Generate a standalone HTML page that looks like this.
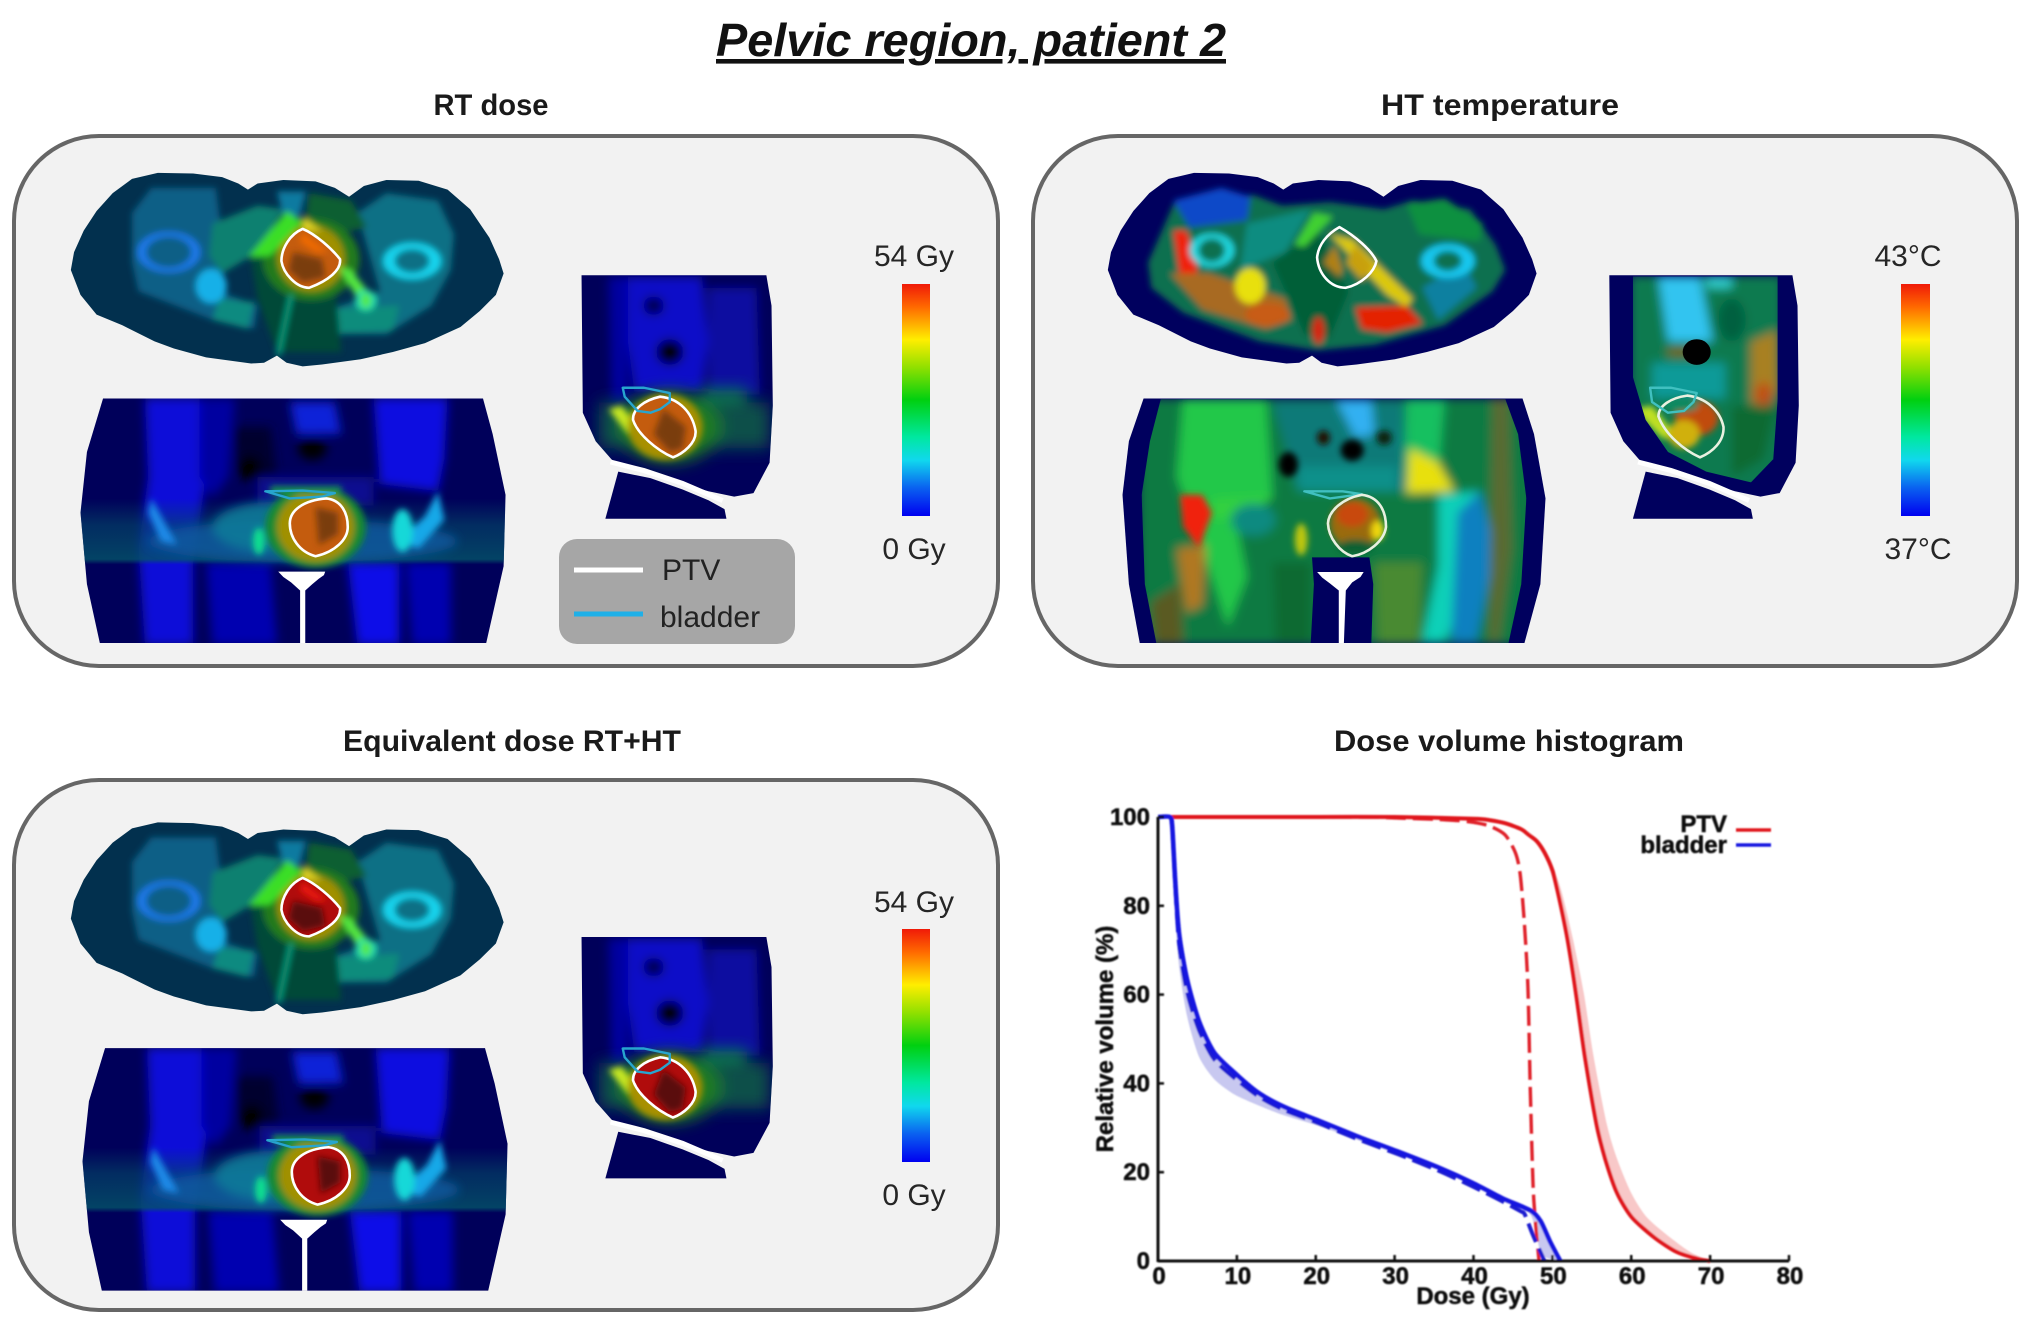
<!DOCTYPE html>
<html lang="en">
<head>
<meta charset="utf-8">
<title>Pelvic region, patient 2</title>
<style>
html,body{margin:0;padding:0;background:#fff;width:2031px;height:1325px;overflow:hidden}
svg{display:block}
text{font-family:"Liberation Sans",sans-serif}
.lbl{font-size:30px;fill:#262626;text-anchor:middle}
.ttl{font-size:30px;font-weight:bold;fill:#1a1a1a}
.ch{font-size:24px;font-weight:bold;fill:#111;stroke:#111;stroke-width:.5px}
.ptvline{fill:none;stroke:#fff;stroke-width:2.6;vector-effect:non-scaling-stroke;stroke-linejoin:round}
.bldline{fill:none;stroke:#27a5cf;stroke-width:2.4;vector-effect:non-scaling-stroke;stroke-linejoin:round}
</style>
</head>
<body>
<svg xmlns="http://www.w3.org/2000/svg" width="2031" height="1325" viewBox="0 0 2031 1325">
<defs>
<filter id="b" x="-20%" y="-20%" width="140%" height="140%"><feGaussianBlur stdDeviation="5 9"/></filter>
<filter id="b3" x="-20%" y="-20%" width="140%" height="140%"><feGaussianBlur stdDeviation="8 14"/></filter>
<filter id="b2" x="-20%" y="-20%" width="140%" height="140%"><feGaussianBlur stdDeviation="12 22"/></filter>
<filter id="soft" x="-5%" y="-5%" width="110%" height="110%"><feGaussianBlur stdDeviation="0.8"/></filter>
<linearGradient id="jet" x1="0" y1="0" x2="0" y2="1">
<stop offset="0" stop-color="#f01a08"/><stop offset=".1" stop-color="#ff6a00"/><stop offset=".24" stop-color="#ffee00"/>
<stop offset=".36" stop-color="#90e000"/><stop offset=".5" stop-color="#00d010"/><stop offset=".66" stop-color="#00e8a0"/>
<stop offset=".76" stop-color="#10d8ee"/><stop offset=".88" stop-color="#0a60f0"/><stop offset="1" stop-color="#0000f0"/>
</linearGradient>
<linearGradient id="band" x1="0" y1="0" x2="0" y2="1">
<stop offset="0" stop-color="#044a66" stop-opacity="0"/><stop offset=".4" stop-color="#044a66" stop-opacity=".6"/><stop offset=".92" stop-color="#045468" stop-opacity=".8"/><stop offset="1" stop-color="#045468" stop-opacity="0"/>
</linearGradient>
<path id="bodyA" d="M110 420L115 370L130 310L150 255L175 205L205 165L245 148L300 150L345 160L370 178L385 195L400 178L440 168L490 172L520 190L542 215L565 185L600 168L650 170L695 195L730 250L760 330L775 390L782 430L770 490L745 535L715 580L660 625L610 650L560 670L500 685L470 690L445 680L430 660L410 680L390 682L320 665L270 640L240 620L190 575L150 545L125 490Z"/>
<path id="bodyC" d="M160 780L750 780L765 880L785 1050L782 1250L755 1465L155 1465L135 1300L125 1100L135 930Z"/>
<path id="bodyS" d="M903 435L1190 435L1198 520L1200 800L1195 960L1170 1045L1140 1055L1100 1040L1040 1008L1000 985L955 962L925 900L905 820Z"/>
<clipPath id="cA"><use href="#bodyA"/></clipPath>
<clipPath id="cC"><use href="#bodyC"/></clipPath>
<clipPath id="cS"><use href="#bodyS"/></clipPath>

<!-- RT dose axial slice -->
<g id="rtAxial">
<use href="#bodyA" fill="#02304e"/>
<g clip-path="url(#cA)"><g filter="url(#b)">
<path d="M205 260L235 190L335 190L345 330L340 480L400 520L395 585L330 560L215 480L205 400Z" fill="#0b5f86"/>
<path d="M555 260L600 205L680 225L705 320L700 420L670 520L600 600L500 600L500 540L590 480Z" fill="#0b6f85"/>
<path d="M330 290L400 240L440 250L400 370L345 430L325 380Z" fill="#0c8070"/>
<path d="M340 500L395 510L385 585L330 560Z" fill="#0c8a80"/>
<path d="M500 530L620 520L610 590L510 600Z" fill="#0c8c7c"/>
<path d="M430 200L475 200L465 270L440 270Z" fill="#0a7aa0"/>
<path d="M480 205L545 225L570 300L520 320L475 270Z" fill="#0a5f30"/>
<path d="M390 390L450 350L520 450L530 650L430 650L400 500Z" fill="#054a38"/>
<ellipse cx="483" cy="390" rx="75" ry="115" fill="#247a1a"/>
<ellipse cx="483" cy="388" rx="52" ry="92" fill="#a09000"/>
<path d="M445 255L385 385L420 380L470 285Z" fill="#3ade28"/>
<path d="M470 270L500 310L470 310Z" fill="#e0d020"/>
<path d="M525 410L545 420L585 510L565 530Z" fill="#55e840"/>
<ellipse cx="328" cy="465" rx="24" ry="48" fill="#18b0e8"/>
<ellipse cx="262" cy="370" rx="42" ry="50" fill="none" stroke="#1e78e8" stroke-width="14"/>
<ellipse cx="640" cy="395" rx="36" ry="42" fill="none" stroke="#14d4ee" stroke-width="18"/>
<ellipse cx="568" cy="505" rx="12" ry="25" fill="none" stroke="#20e0b0" stroke-width="8"/>
<path d="M452 490L432 660" stroke="#10a080" stroke-width="7" fill="none"/>
</g></g>
<path d="M470 305C490 320 515 360 528 390C530 420 510 450 480 470C460 470 440 430 437 395C437 360 450 320 470 305Z" style="fill:var(--ptv)"/>
<path d="M455 370L500 390L505 440L470 455L448 420Z" style="fill:var(--ptvd)" filter="url(#b)"/>
<path d="M470 315L510 370L490 370L465 340Z" style="fill:var(--ptvl)" filter="url(#b)"/>
<path class="ptvline" d="M470 305C490 320 515 360 528 390C530 420 510 450 480 470C460 470 440 430 437 395C437 360 450 320 470 305Z"/>
</g>

<!-- RT dose coronal slice -->
<g id="rtCoronal">
<use href="#bodyC" fill="#00005a"/>
<g clip-path="url(#cC)"><g filter="url(#b3)">
<path d="M225 780L310 780L320 1000L300 1240L300 1470L225 1470L215 1200L230 1000Z" fill="#0a0ad8"/>
<path d="M310 780L365 780L355 1000L330 1060L310 1000Z" fill="#0606a0"/>
<path d="M580 780L695 780L690 950L680 1040L590 1020Z" fill="#0a0ae0"/>
<path d="M320 1240L420 1240L430 1470L330 1470Z" fill="#0606b0"/>
<path d="M540 1240L620 1240L620 1470L555 1470Z" fill="#0810e8"/>
<path d="M630 1240L700 1240L700 1470L640 1470Z" fill="#0606b0"/>
<path d="M450 790L520 790L530 880L460 880Z" fill="#0a20d8"/>
<path d="M400 1000L580 1000L580 1080L400 1080Z" fill="#0a0a90"/>
<path d="M360 860L420 860L430 1000L370 1000Z" fill="#01012e"/>
<ellipse cx="485" cy="920" rx="22" ry="32" fill="#000"/>
<ellipse cx="388" cy="975" rx="18" ry="35" fill="#000"/>
</g>
<rect x="120" y="1060" width="680" height="185" fill="url(#band)"/>
<g filter="url(#b3)">
<ellipse cx="470" cy="1180" rx="240" ry="60" fill="#0a5aa0" opacity=".8"/>
<ellipse cx="420" cy="1140" rx="90" ry="70" fill="#0a7a98" opacity=".9"/>
</g>
<g filter="url(#b)">
<path d="M235 1060L275 1190L250 1180L230 1100Z" fill="#1a8ae8"/>
<path d="M680 1040L690 1120L650 1200L620 1180L660 1110Z" fill="#18a8e8"/>
<ellipse cx="625" cy="1150" rx="16" ry="60" fill="#12d8d8"/>
<ellipse cx="402" cy="1180" rx="9" ry="38" fill="#10e090"/>
<ellipse cx="490" cy="1140" rx="78" ry="115" fill="#168a30"/>
<ellipse cx="490" cy="1140" rx="60" ry="98" fill="#a09000"/>
<rect x="420" y="1025" width="110" height="25" fill="#129050"/>
</g></g>
<path d="M432 1265L505 1265L503 1275L495 1285L485 1300L474 1318L474 1465L466 1465L466 1318L452 1295L440 1280Z" fill="#fff"/>
<path d="M507 1060C530 1065 540 1100 540 1140C540 1175 520 1210 490 1222C465 1210 450 1170 450 1130C450 1095 470 1065 507 1060Z" style="fill:var(--ptv)"/>
<path d="M490 1085L525 1100L525 1160L495 1190Z" style="fill:var(--ptvd)" filter="url(#b)"/>
<path class="bldline" d="M412 1040L470 1038L520 1045L500 1055L450 1060Z"/>
<path class="ptvline" d="M507 1060C530 1065 540 1100 540 1140C540 1175 520 1210 490 1222C465 1210 450 1170 450 1130C450 1095 470 1065 507 1060Z"/>
</g>

<!-- RT dose sagittal slice -->
<g id="rtSagittal">
<use href="#bodyS" fill="#00005a"/>
<g clip-path="url(#cS)"><g filter="url(#b3)">
<path d="M975 440L1090 440L1100 620L1090 760L985 760L975 620Z" fill="#0a10c8"/>
<path d="M1100 470L1175 470L1180 770L1100 770Z" fill="#0808a0"/>
<path d="M945 440L975 440L975 800L950 800Z" fill="#0606a0"/>
<ellipse cx="1015" cy="520" rx="16" ry="26" fill="#02024c"/>
<ellipse cx="1040" cy="650" rx="21" ry="36" fill="#000"/>
</g>
<g filter="url(#b2)">
<rect x="930" y="790" width="265" height="130" fill="#07504a"/>
<ellipse cx="1040" cy="860" rx="80" ry="100" fill="#1a7a20"/>
<rect x="1090" y="755" width="70" height="30" fill="#0c9050"/>
</g>
<g filter="url(#b)">
<path d="M945 810L965 800L1000 880L975 880Z" fill="#c8e820"/>
<ellipse cx="1033" cy="860" rx="58" ry="92" fill="#a89000"/>
</g></g>
<path d="M948 958L1000 982L1060 1018L1122 1066" fill="none" stroke="#fff" stroke-width="5" vector-effect="non-scaling-stroke"/>
<path d="M960 985L1010 1003L1060 1035L1100 1065L1125 1090L1128 1117L940 1117Z" fill="#00005a"/>
<path d="M1025 775C1055 780 1075 820 1080 870C1082 905 1060 935 1045 945C1020 925 990 880 983 840C982 810 1000 785 1025 775Z" style="fill:var(--ptv)"/>
<path d="M1030 810L1065 860L1060 920L1040 930L1015 880Z" style="fill:var(--ptvd)" filter="url(#b)"/>
<path class="ptvline" d="M1025 775C1055 780 1075 820 1080 870C1082 905 1060 935 1045 945C1020 925 990 880 983 840C982 810 1000 785 1025 775Z"/>
<path class="bldline" d="M967 750L1000 750L1040 765L1040 790L1025 810L1010 820L990 815L970 775Z"/>
</g>
</defs>

<rect width="2031" height="1325" fill="#fff"/>

<text x="971" y="56" font-size="46" font-weight="bold" font-style="italic" text-anchor="middle" fill="#111" text-decoration="underline" textLength="510" lengthAdjust="spacingAndGlyphs">Pelvic region, patient 2</text>
<text class="ttl" x="491" y="115" text-anchor="middle" textLength="115" lengthAdjust="spacingAndGlyphs">RT dose</text>
<text class="ttl" x="1500" y="115" text-anchor="middle" textLength="238" lengthAdjust="spacingAndGlyphs">HT temperature</text>
<text class="ttl" x="512" y="751" text-anchor="middle" textLength="338" lengthAdjust="spacingAndGlyphs">Equivalent dose RT+HT</text>
<text class="ttl" x="1509" y="751" text-anchor="middle" textLength="350" lengthAdjust="spacingAndGlyphs">Dose volume histogram</text>

<!-- PANEL 1 RT dose -->
<g>
<rect x="14" y="136" width="984" height="530" rx="85" ry="85" fill="#f2f2f2" stroke="#666" stroke-width="4"/>
<g transform="translate(0,120) scale(.644,.357)" style="--ptv:#c45c0e;--ptvd:#7a3c10;--ptvl:#f06a04">
<use href="#rtAxial"/>
<use href="#rtCoronal"/>
<use href="#rtSagittal"/>
</g>
<rect x="902" y="284" width="28" height="232" fill="url(#jet)"/>
<text class="lbl" x="914" y="266">54 Gy</text>
<text class="lbl" x="914" y="559">0 Gy</text>
<g>
<rect x="559" y="539" width="236" height="105" rx="18" fill="#a6a6a6"/>
<line x1="574" y1="570" x2="643" y2="570" stroke="#fff" stroke-width="5"/>
<text x="662" y="580" font-size="30" fill="#222">PTV</text>
<line x1="574" y1="614" x2="643" y2="614" stroke="#1fb0e8" stroke-width="5"/>
<text x="660" y="627" font-size="30" fill="#222">bladder</text>
</g>
</g>

<!-- PANEL 2 HT temperature -->
<g>
<rect x="1033" y="136" width="984" height="530" rx="85" ry="85" fill="#f2f2f2" stroke="#666" stroke-width="4"/>
<g transform="translate(1030,120) scale(.638,.357)">
<!-- axial -->
<g>
<g transform="translate(12,0)"><use href="#bodyA" fill="#00005e"/></g>
<g transform="translate(12,0)" clip-path="url(#cA)"><g transform="translate(-12,0)"><g filter="url(#b)">
<path d="M185 400L225 235L350 210L395 240L470 230L555 250L600 225L690 250L730 350L745 420L725 480L650 575L540 630L450 645L360 620L240 540L190 470Z" fill="#0a7050"/>
<path d="M225 225L300 190L345 215L340 280L250 300Z" fill="#1048c8"/>
<path d="M590 235L650 220L710 290L705 340L610 320Z" fill="#0a9040"/>
<path d="M340 290L440 250L400 370L330 420Z" fill="#0a8c80"/>
<path d="M380 400L450 310L500 480L470 610L430 600Z" fill="#065f38"/>
<path d="M225 310L245 310L260 390L265 470L235 440Z" fill="#f02010"/>
<path d="M220 430L280 430L400 500L410 560L370 585L270 530Z" fill="#a86a20"/>
<ellipse cx="372" cy="545" rx="35" ry="32" fill="#c85c18"/>
<ellipse cx="345" cy="465" rx="24" ry="50" fill="#e8e010"/>
<path d="M470 320L505 335L600 500L590 525L560 490Z" fill="#dcc810"/>
<path d="M445 260L415 350L430 355L475 270Z" fill="#40d030"/>
<path d="M510 525L590 520L615 570L560 595L520 585Z" fill="#e42000"/>
<path d="M615 470L680 400L700 470L640 560Z" fill="#0a80a0"/>
<ellipse cx="285" cy="365" rx="28" ry="40" fill="none" stroke="#20d8e0" stroke-width="14"/>
<ellipse cx="655" cy="395" rx="32" ry="38" fill="none" stroke="#18c8f0" stroke-width="20"/>
<ellipse cx="452" cy="590" rx="9" ry="38" fill="#d82010"/>
<path d="M478 350L490 420L485 440L460 400Z" fill="#b08018"/>
<path d="M510 350L540 410L520 450L495 400Z" fill="#c8a010"/>
</g></g></g>
<path class="ptvline" d="M485 300C510 325 535 365 543 395C540 425 520 460 495 470C470 470 452 430 450 385C452 350 465 320 485 300Z"/>
</g>
<!-- coronal -->
<g>
<path d="M178 780L772 780L790 880L808 1060L800 1300L775 1465L172 1465L155 1300L145 1050L155 900Z" fill="#00005e"/>
<clipPath id="cHC"><path d="M205 782L745 782L765 880L778 1060L770 1300L750 1465L198 1465L180 1300L175 1050L188 900Z"/></clipPath>
<g clip-path="url(#cHC)"><g filter="url(#b3)">
<rect x="170" y="780" width="620" height="690" fill="#0b7a42"/>
<path d="M240 780L370 780L380 1060L320 1100L340 1280L310 1420L270 1200L230 1000Z" fill="#24c848"/>
<path d="M590 780L650 780L640 1000L585 1050Z" fill="#18c060"/>
<path d="M380 790L585 790L590 1040L420 1040Z" fill="#0c7a78"/>
<path d="M480 785L535 785L540 880L510 890Z" fill="#30b0f2"/>
<path d="M420 970L575 970L575 1040L420 1040Z" fill="#10908a"/>
<path d="M595 920L640 960L665 1040L590 1045Z" fill="#e8e010"/>
<path d="M285 1060L380 1050L350 1110L285 1120Z" fill="#30d040"/>
<ellipse cx="350" cy="1120" rx="35" ry="45" fill="#108a80"/>
<path d="M230 1200L275 1190L270 1360L245 1380Z" fill="#b07820"/>
<path d="M640 1050L705 1040L700 1180L680 1350L650 1460L615 1460L640 1250Z" fill="#10d0b8"/>
<path d="M670 1100L705 1040L730 1200L700 1460L660 1460Z" fill="#0a80c0"/>
<path d="M725 780L750 780L755 1200L735 1460L720 1460Z" fill="#5a6a30"/>
<path d="M190 1350L235 1300L240 1465L195 1465Z" fill="#5a5a20"/>
<path d="M380 1240L440 1240L440 1465L385 1465Z" fill="#0a6a30"/>
<path d="M540 1240L615 1240L610 1465L545 1465Z" fill="#4a8a30"/>
</g>
<g filter="url(#b)">
<ellipse cx="505" cy="925" rx="18" ry="30" fill="#000"/>
<ellipse cx="405" cy="965" rx="15" ry="35" fill="#000"/>
<ellipse cx="460" cy="890" rx="10" ry="20" fill="#201000"/>
<ellipse cx="555" cy="890" rx="12" ry="20" fill="#102010"/>
<path d="M235 1050L270 1050L285 1100L265 1200L240 1140Z" fill="#f02010"/>
<ellipse cx="425" cy="1175" rx="10" ry="45" fill="#c0c810"/>
<ellipse cx="510" cy="1130" rx="40" ry="70" fill="#9a6a10"/>
<ellipse cx="505" cy="1105" rx="25" ry="35" fill="#c84a10"/>
<ellipse cx="545" cy="1150" rx="10" ry="28" fill="#f0d810"/>
<ellipse cx="510" cy="1195" rx="28" ry="20" fill="#106030"/>
</g></g>
<path d="M442 1225L532 1225L538 1300L535 1465L440 1465L445 1300Z" fill="#00005e"/>
<path d="M450 1266L523 1266L518 1280L505 1295L495 1318L492 1465L484 1465L484 1318L470 1298L458 1282Z" fill="#fff"/>
<path class="bldline" d="M430 1040L490 1040L520 1048L470 1060Z" style="stroke:#40c0c0"/>
<path class="ptvline" d="M520 1050C545 1055 558 1090 558 1140C555 1180 530 1215 505 1222C485 1210 468 1170 467 1130C468 1095 490 1060 520 1050Z" style="stroke:#e8f0e0"/>
</g>
<!-- sagittal -->
<g>
<g transform="translate(5,0)"><use href="#bodyS" fill="#00005e"/></g>
<clipPath id="cHS"><path d="M945 438L1172 438L1172 780L1165 950L1130 1015L1060 985L1000 930L965 840L945 720Z"/></clipPath>
<g clip-path="url(#cHS)"><g filter="url(#b3)">
<rect x="940" y="435" width="240" height="600" fill="#0a7a50"/>
<path d="M985 440L1050 440L1070 620L1000 620Z" fill="#30c4f0"/>
<rect x="1060" y="440" width="40" height="30" fill="#30d0d0"/>
<rect x="975" y="680" width="115" height="100" fill="#0e9a98"/>
<rect x="1000" y="640" width="50" height="20" fill="#806010"/>
<path d="M1130 620L1170 590L1172 760L1130 800Z" fill="#a88020"/>
<ellipse cx="1150" cy="770" rx="14" ry="35" fill="#c05018"/>
<ellipse cx="1100" cy="560" rx="22" ry="60" fill="#066040"/>
<path d="M1100 800L1170 800L1150 950L1100 1000Z" fill="#0a6a30"/>
</g>
<g filter="url(#b)">
<path d="M945 810L975 800L1020 900L990 890Z" fill="#c0e020"/>
<ellipse cx="1045" cy="835" rx="34" ry="50" fill="#c04c10"/>
<ellipse cx="1025" cy="880" rx="25" ry="40" fill="#d0b010"/>
<ellipse cx="1020" cy="800" rx="28" ry="18" fill="#108a60"/>
</g></g>
<ellipse cx="1045" cy="650" rx="22" ry="36" fill="#000"/>
<path d="M953 958L1005 982L1065 1018L1127 1066" fill="none" stroke="#fff" stroke-width="5" vector-effect="non-scaling-stroke"/>
<path d="M965 985L1015 1003L1065 1035L1105 1065L1130 1090L1133 1117L945 1117Z" fill="#00005e"/>
<path class="ptvline" d="M1030 772C1060 778 1082 815 1087 860C1088 900 1070 930 1050 945C1025 925 995 880 985 830C985 800 1005 778 1030 772Z" style="stroke:#e8f0e0"/>
<path class="bldline" d="M972 750L1005 750L1045 765L1040 790L1025 815L1000 820L975 790Z" style="stroke:#40c0c0"/>
</g>
</g>
<rect x="1901" y="284" width="29" height="232" fill="url(#jet)"/>
<text class="lbl" x="1908" y="266">43°C</text>
<text class="lbl" x="1918" y="559">37°C</text>
</g>

<!-- PANEL 3 Equivalent dose -->
<g>
<rect x="14" y="780" width="984" height="530" rx="85" ry="85" fill="#f2f2f2" stroke="#666" stroke-width="4"/>
<g style="--ptv:#b00c0c;--ptvd:#5a0808;--ptvl:#e81808">
<g transform="translate(0,770) scale(.644,.354)"><use href="#rtAxial"/></g>
<g transform="translate(2,772) scale(.644,.354)"><use href="#rtCoronal"/></g>
<g transform="translate(0,783) scale(.644,.354)"><use href="#rtSagittal"/></g>
</g>
<rect x="902" y="929" width="28" height="233" fill="url(#jet)"/>
<text class="lbl" x="914" y="912">54 Gy</text>
<text class="lbl" x="914" y="1205">0 Gy</text>
</g>

<!-- DVH chart -->
<g id="dvh" filter="url(#soft)"></g>

<script>
const xTicks = [0, 10, 20, 30, 40, 50, 60, 70, 80];
const yTicks = [0, 20, 40, 60, 80, 100];
const seriesNames = ['PTV', 'bladder'];
const ptvDose = [1.5, 10, 20, 30, 40, 42, 44, 46, 47, 48, 49, 50, 50.7, 51.9, 53, 54.1, 55.6, 56.7, 58.2, 60.1, 63, 65.8, 68.6, 70];
const ptvVolume = [100, 100, 100, 100, 99.6, 99.3, 98.6, 97.3, 96, 94.6, 92, 88, 83, 72.6, 60.2, 46.3, 30.8, 23, 15.3, 9.8, 5.2, 2, 0.4, 0];
const ptvBandDose = [40, 46, 48, 50, 51.2, 52.6, 54, 55.2, 56.9, 58.2, 60, 62, 65, 67.5, 69.5, 70];
const ptvBandVolume = [99.6, 97.5, 95, 89, 83, 72.6, 60.2, 46.3, 30.8, 23, 15.3, 9.8, 5.2, 2, 0.4, 0];
const ptvRtDose = [1.5, 25, 30, 35, 38, 40, 42, 44, 45.3, 45.9, 46.4, 46.9, 47.2, 47.6, 48.3];
const ptvRtVolume = [100, 100, 99.8, 99.5, 99.2, 98.8, 98, 96, 92, 87.4, 77.3, 61.8, 38.5, 15.3, 0];
const bladderDose = [0, 1.5, 1.8, 2.2, 2.7, 3.7, 5.2, 7.1, 9.7, 12.8, 16, 20.4, 25.4, 30.5, 35.5, 39.9, 43.7, 47.2, 48.5, 49.7, 51];
const bladderVolume = [100, 100, 98, 85, 73.4, 63.3, 54, 47, 42.4, 37.8, 34.7, 31.6, 28, 24.6, 21.1, 17.6, 14.1, 11.4, 9, 4.4, 0];
const bladderBandVolume = [100, 100, 97, 78, 66, 55, 46, 41, 37.5, 35, 32.8, 30.4, 27.2, 24, 20.5, 17, 13.4, 10.5, 2, 0.5, 0];
const bladderRtDose = [0, 1.5, 1.8, 2.2, 2.7, 3.7, 5.2, 7.1, 9.7, 12.8, 16, 20.4, 25.4, 30.5, 35.5, 39.9, 43.7, 46, 46.5, 47.5, 48.5, 49];
const bladderRtVolume = [100, 100, 97.5, 84, 71, 60.5, 52, 45.5, 41.2, 37, 34, 31, 27.4, 24, 20.4, 16.8, 13.4, 11.2, 10.5, 6, 2, 0];

const SVGNS = 'http://www.w3.org/2000/svg';
const root = document.getElementById('dvh');
const X0 = 1158, X1 = 1789, Y0 = 1261, Y1 = 817;
const xMax = xTicks[xTicks.length - 1];
const yMax = yTicks[yTicks.length - 1];
function xPos(d) { return X0 + (X1 - X0) * d / xMax; }
function yPos(v) { return Y0 - (Y0 - Y1) * v / yMax; }
function mk(tag, attrs, parent) {
  const e = document.createElementNS(SVGNS, tag);
  for (const k in attrs) e.setAttribute(k, attrs[k]);
  (parent || root).appendChild(e);
  return e;
}
function linePath(xs, ys) {
  const p = xs.map(function (d, i) { return [xPos(d), yPos(ys[i])]; });
  let s = 'M' + p[0][0].toFixed(1) + ' ' + p[0][1].toFixed(1);
  for (let i = 0; i < p.length - 1; i++) {
    const a = p[Math.max(0, i - 1)], b = p[i], c = p[i + 1], e = p[Math.min(p.length - 1, i + 2)];
    const c1 = [b[0] + (c[0] - a[0]) / 8, b[1] + (c[1] - a[1]) / 8];
    const c2 = [c[0] - (e[0] - b[0]) / 8, c[1] - (e[1] - b[1]) / 8];
    s += 'C' + c1[0].toFixed(1) + ' ' + c1[1].toFixed(1) + ' ' + c2[0].toFixed(1) + ' ' + c2[1].toFixed(1) + ' ' + c[0].toFixed(1) + ' ' + c[1].toFixed(1);
  }
  return s;
}

// uncertainty bands
const ptvBand = mk('path', {d: linePath(ptvDose.slice(4), ptvVolume.slice(4)) + linePath(ptvBandDose.slice().reverse(), ptvBandVolume.slice().reverse()).replace('M', 'L') + 'Z', fill: '#f8c8c8'});


const bladderBand = mk('path', {d: linePath(bladderDose, bladderVolume) + linePath(bladderDose.slice().reverse(), bladderBandVolume.slice().reverse()).replace('M', 'L') + 'Z', fill: '#c8c8f0'});



// series
const ptvRt = mk('path', {d: linePath(ptvRtDose, ptvRtVolume), fill: 'none', stroke: '#e0202a', 'stroke-width': 3.4, 'stroke-dasharray': '20 7'});


const ptvLine = mk('path', {d: linePath(ptvDose, ptvVolume), fill: 'none', stroke: '#e0141e', 'stroke-width': 4, 'stroke-linejoin': 'round'});


const bladderRt = mk('path', {d: linePath(bladderRtDose, bladderRtVolume), fill: 'none', stroke: '#1a1ad0', 'stroke-width': 4, 'stroke-dasharray': '20 7'});


const bladderLine = mk('path', {d: linePath(bladderDose, bladderVolume), fill: 'none', stroke: '#1414e0', 'stroke-width': 4.6, 'stroke-linejoin': 'round'});



// axes
const xAxis = mk('line', {x1: X0, y1: Y0, x2: X1, y2: Y0, stroke: '#111', 'stroke-width': 3});


const yAxis = mk('line', {x1: X0, y1: Y0 + 1, x2: X0, y2: Y1, stroke: '#111', 'stroke-width': 3});


xTicks.forEach(function (t) {
  const tick = mk('line', {x1: xPos(t), y1: Y0, x2: xPos(t), y2: Y0 - 6, stroke: '#111', 'stroke-width': 2.5});
  
  
  const lab = mk('text', {x: xPos(t) + 1, y: 1284, 'text-anchor': 'middle', class: 'ch'});
  lab.textContent = t;
  
  
});
yTicks.forEach(function (t) {
  const tick = mk('line', {x1: X0, y1: yPos(t), x2: X0 + 6, y2: yPos(t), stroke: '#111', 'stroke-width': 2.5});
  
  
  const lab = mk('text', {x: 1150, y: yPos(t) + 8, 'text-anchor': 'end', class: 'ch'});
  lab.textContent = t;
  
  
});
const xTitle = mk('text', {x: 1473, y: 1304, 'text-anchor': 'middle', class: 'ch'});
xTitle.textContent = 'Dose (Gy)';


const yTitle = mk('text', {x: 0, y: 0, 'text-anchor': 'middle', class: 'ch', transform: 'translate(1113,1039) rotate(-90)'});
yTitle.textContent = 'Relative volume (%)';



// legend
const legendColors = ['#e0141e', '#1414e0'];
seriesNames.forEach(function (name, i) {
  const ly = 830 + i * 15;
  const tx = mk('text', {x: 1727, y: 832 + i * 21, 'text-anchor': 'end', class: 'ch'});
  tx.textContent = name;
  
  
  const sw = mk('line', {x1: 1736, y1: ly, x2: 1771, y2: ly, stroke: legendColors[i], 'stroke-width': 3.4});
  
  
});
</script>
</svg>
</body>
</html>
